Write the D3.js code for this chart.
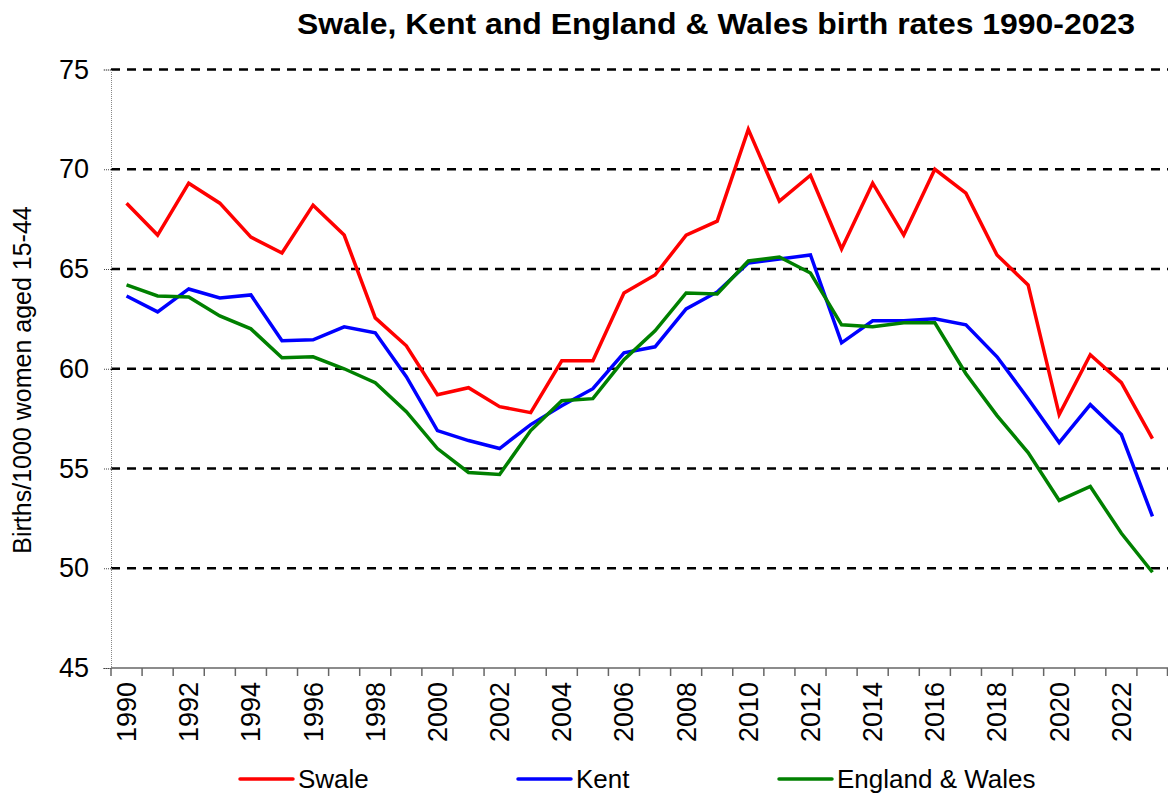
<!DOCTYPE html>
<html>
<head>
<meta charset="utf-8">
<script src="https://cdn.jsdelivr.net/npm/d3@7"></script>
<style>
  body { margin: 0; background: #fff; }
  text { font-family: "Liberation Sans", Arial, sans-serif; }
</style>
</head>
<body>
<div id="chart"></div>
<script>
// data
var years = d3.range(1990, 2024);
var swale = [68.3, 66.7, 69.3, 68.3, 66.6, 65.8, 68.2, 66.7, 62.55, 61.15,
             58.7, 59.05, 58.1, 57.8, 60.4, 60.4, 63.8, 64.7, 66.7, 67.4,
             72.0, 68.4, 69.7, 66.0, 69.3, 66.7, 70.0, 68.8, 65.7, 64.2,
             57.7, 60.7, 59.3, 56.5];
var kent = [63.65, 62.85, 64.0, 63.55, 63.7, 61.4, 61.45, 62.1, 61.8, 59.6,
            56.9, 56.4, 56.0, 57.2, 58.15, 59.0, 60.8, 61.1, 63.0, 63.85,
            65.3, 65.5, 65.7, 61.3, 62.4, 62.4, 62.5, 62.2, 60.6, 58.5,
            56.3, 58.2, 56.7, 52.6];
var englandWales = [64.2, 63.65, 63.6, 62.65, 62.0, 60.55, 60.6, 60.0, 59.3, 57.85,
                    56.0, 54.8, 54.7, 56.9, 58.4, 58.5, 60.45, 61.9, 63.8, 63.75,
                    65.4, 65.6, 64.8, 62.2, 62.1, 62.3, 62.3, 59.75, 57.65, 55.8,
                    53.4, 54.1, 51.75, 49.8];
var seriesNames = ["Swale", "Kent", "England & Wales"];
var seriesColors = ["#ff0000", "#0000ff", "#008000"];
var yTicks = [45, 50, 55, 60, 65, 70, 75];
var xLabelYears = years.filter(d => d % 2 === 0);

var w = 1168, h = 798;
var plotLeft = 111, plotRight = 1168, plotTop = 69.5, plotBottom = 668;

var svg = d3.select("#chart").append("svg")
    .attr("width", w).attr("height", h);

var x = d3.scaleBand().domain(years).range([plotLeft, plotRight]);
var y = d3.scaleLinear().domain([45, 75]).range([plotBottom, plotTop]);

// title
svg.append("text")
    .attr("x", 716).attr("y", 34)
    .attr("text-anchor", "middle")
    .attr("font-size", 30).attr("font-weight", "bold")
    .attr("textLength", 838).attr("lengthAdjust", "spacingAndGlyphs")
    .text("Swale, Kent and England & Wales birth rates 1990-2023");

// gridlines
svg.append("g").selectAll("line")
    .data(yTicks.filter(d => d > 45))
    .enter().append("line")
    .attr("x1", plotLeft).attr("x2", plotRight)
    .attr("y1", d => y(d)).attr("y2", d => y(d))
    .attr("stroke", "#000").attr("stroke-width", 2.5)
    .attr("stroke-dasharray", "9,7");

// y axis
var yAxis = svg.append("g")
    .attr("transform", "translate(" + plotLeft + ",0)")
    .call(d3.axisLeft(y).tickValues(yTicks).tickSize(8).tickPadding(14));
yAxis.select(".domain").attr("stroke", "#888").attr("stroke-dasharray", "1,1");
yAxis.selectAll(".tick line").attr("stroke", "#444").attr("stroke-dasharray", "1,1");
yAxis.selectAll(".tick text").attr("font-size", 27).attr("fill", "#000")
    .style("font-family", "'Liberation Sans', Arial, sans-serif");

// y label
svg.append("text")
    .attr("transform", "translate(31,380) rotate(-90)")
    .attr("text-anchor", "middle")
    .attr("font-size", 25)
    .text("Births/1000 women aged 15-44");

// x axis
var xAxis = svg.append("g")
    .attr("transform", "translate(0," + plotBottom + ")")
    .call(d3.axisBottom(x).tickValues(xLabelYears).tickSize(0).tickPadding(0));
xAxis.select(".domain").remove();
xAxis.selectAll(".tick text")
    .attr("font-size", 27).attr("fill", "#000")
    .style("font-family", "'Liberation Sans', Arial, sans-serif")
    .attr("transform", "rotate(-90)")
    .attr("text-anchor", "end")
    .attr("x", -14).attr("y", 0).attr("dy", "0.35em");

svg.append("line")
    .attr("x1", plotLeft).attr("x2", plotRight)
    .attr("y1", plotBottom).attr("y2", plotBottom)
    .attr("stroke", "#666").attr("stroke-width", 1.5);
svg.append("g").selectAll("line")
    .data(years.concat([null]))
    .enter().append("line")
    .attr("x1", d => d === null ? plotRight - 0.5 : x(d))
    .attr("x2", d => d === null ? plotRight - 0.5 : x(d))
    .attr("y1", plotBottom).attr("y2", plotBottom + 8)
    .attr("stroke", "#666").attr("stroke-width", 1.5);

// lines
var line = d3.line()
    .x((d, i) => x(years[i]) + x.bandwidth() / 2)
    .y(d => y(d));

var allSeries = [swale, kent, englandWales];
svg.append("g").selectAll("path")
    .data(allSeries)
    .enter().append("path")
    .attr("d", line)
    .attr("fill", "none")
    .attr("stroke", (d, i) => seriesColors[i])
    .attr("stroke-width", 3.5)
    .attr("stroke-linejoin", "miter");

// legend
var legendX = [240, 518, 779];
var leg = svg.append("g").selectAll("g")
    .data(seriesNames)
    .enter().append("g")
    .attr("transform", (d, i) => "translate(" + legendX[i] + ",779)");
leg.append("line")
    .attr("x1", 0).attr("x2", 53)
    .attr("stroke", (d, i) => seriesColors[i])
    .attr("stroke-width", 3.5).attr("stroke-linecap", "round");
leg.append("text")
    .attr("x", 58).attr("dy", "0.35em")
    .attr("font-size", 26)
    .text(d => d);
</script>
</body>
</html>
